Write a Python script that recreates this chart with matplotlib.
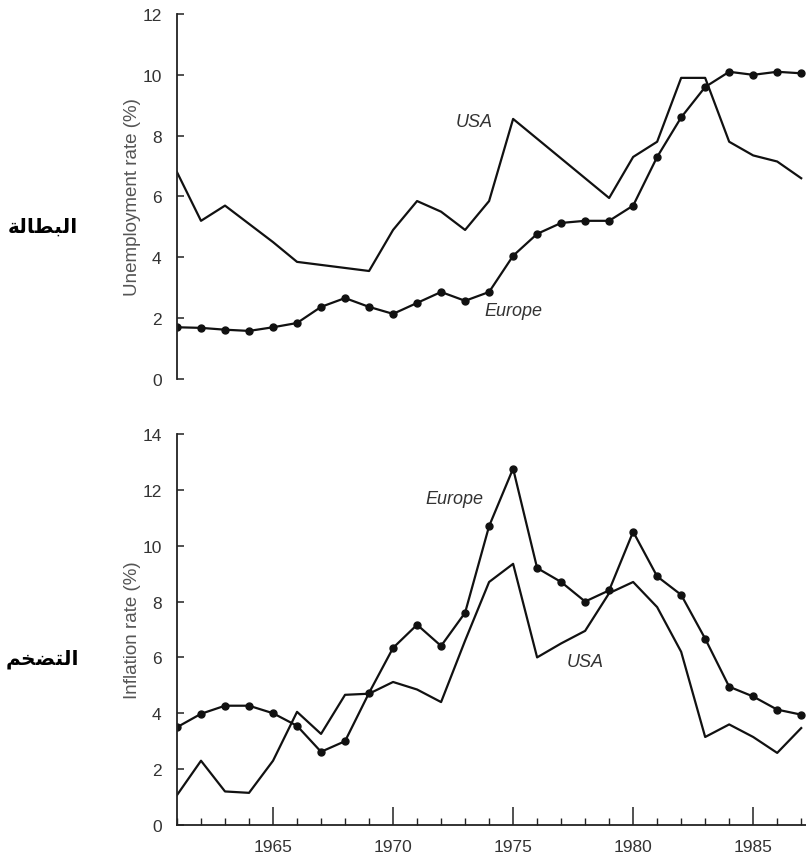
import numpy as np
import matplotlib
matplotlib.use('Agg')
import matplotlib.pyplot as plt
from matplotlib.ticker import MultipleLocator

years = np.arange(1961, 1988)

# unemployment rate (%)
unemp_usa = [6.8, 5.2, 5.7, 5.1, 4.5, 3.85, 3.75, 3.65, 3.55, 4.9, 5.85, 5.5, 4.9, 5.85,
             8.55, 7.9, 7.25, 6.6, 5.95, 7.3, 7.8, 9.9, 9.9, 7.8, 7.35, 7.15, 6.6]
unemp_eur = [1.7, 1.68, 1.62, 1.58, 1.7, 1.84, 2.37, 2.66, 2.37, 2.14, 2.5, 2.86, 2.57, 2.86,
             4.05, 4.77, 5.13, 5.2, 5.2, 5.7, 7.3, 8.6, 9.6, 10.1, 10.0, 10.1, 10.05]

# inflation rate (%)
infl_usa = [1.07, 2.3, 1.2, 1.15, 2.3, 4.05, 3.26, 4.66, 4.7, 5.12, 4.85, 4.4, 6.6, 8.7,
            9.35, 6.0, 6.5, 6.95, 8.3, 8.7, 7.8, 6.2, 3.15, 3.6, 3.15, 2.58, 3.47]
infl_eur = [3.5, 3.98, 4.27, 4.27, 4.0, 3.55, 2.62, 3.0, 4.73, 6.34, 7.17, 6.41, 7.6, 10.7,
            12.76, 9.2, 8.7, 8.0, 8.4, 10.5, 8.9, 8.24, 6.67, 4.95, 4.6, 4.13, 3.95]

# Arabic labels, written in presentation forms (visual order) so they join
label_unemp = '\uFE94\uFEDF\uFE8E\uFEC4\uFE92\uFEDF\uFE8D'   # البطالة
label_infl = '\uFEE2\uFEA8\uFEC0\uFE98\uFEDF\uFE8D'          # التضخم

plt.rcParams['font.family'] = ['Liberation Sans', 'DejaVu Sans']

fig = plt.figure(figsize=(8.06, 8.62), dpi=100)
ax1 = fig.add_axes([0.2196, 0.5592, 0.7804, 0.4234])
ax2 = fig.add_axes([0.2196, 0.0418, 0.7804, 0.4536])

lc = '#111111'
ax1.plot(years, unemp_usa, color=lc, lw=1.6)
ax1.plot(years, unemp_eur, color=lc, lw=1.6, marker='o', ms=5)
ax2.plot(years, infl_usa, color=lc, lw=1.6)
ax2.plot(years, infl_eur, color=lc, lw=1.6, marker='o', ms=5)

for ax in (ax1, ax2):
    ax.set_xlim(1961, 1987.2)
    for s in ('top', 'right'):
        ax.spines[s].set_visible(False)
    ax.spines['left'].set_linewidth(1.3)
    ax.spines['left'].set_color('#222222')
    ax.tick_params(axis='y', direction='in', length=5, width=1.1, colors='#222222',
                   labelsize=12.5, labelcolor='#333333', pad=11)

ax1.set_ylim(0, 12)
ax1.set_yticks(range(0, 13, 2))
ax1.spines['bottom'].set_visible(False)
ax1.set_xticks([])
ax1.set_ylabel('Unemployment rate (%)', fontsize=13.5, color='#555555', labelpad=1)

ax2.set_ylim(0, 14)
ax2.set_yticks(range(0, 15, 2))
ax2.spines['bottom'].set_linewidth(1.3)
ax2.spines['bottom'].set_color('#222222')
ax2.set_xticks([1965, 1970, 1975, 1980, 1985])
ax2.xaxis.set_minor_locator(MultipleLocator(1))
ax2.tick_params(axis='x', which='major', direction='in', length=13, width=1.1,
                colors='#222222', labelsize=12.5, labelcolor='#333333', pad=10)
ax2.tick_params(axis='x', which='minor', direction='in', length=5, width=1.0, colors='#222222')
ax2.set_ylabel('Inflation rate (%)', fontsize=13.5, color='#555555', labelpad=1)

# series labels
lab = dict(style='italic', fontsize=13, color='#333333', ha='left', va='center')
ax1.text(1972.6, 8.45, 'USA', **lab)
ax1.text(1973.8, 2.24, 'Europe', **lab)
ax2.text(1971.35, 11.68, 'Europe', **lab)
ax2.text(1977.25, 5.84, 'USA', **lab)

fig.text(43 / 806, 1 - 227 / 862, label_unemp, family='DejaVu Sans', fontweight='bold',
         fontsize=14.5, ha='center', va='center')
fig.text(42 / 806, 1 - 659 / 862, label_infl, family='DejaVu Sans', fontweight='bold',
         fontsize=14.5, ha='center', va='center')

fig.savefig('out.png', dpi=100)
